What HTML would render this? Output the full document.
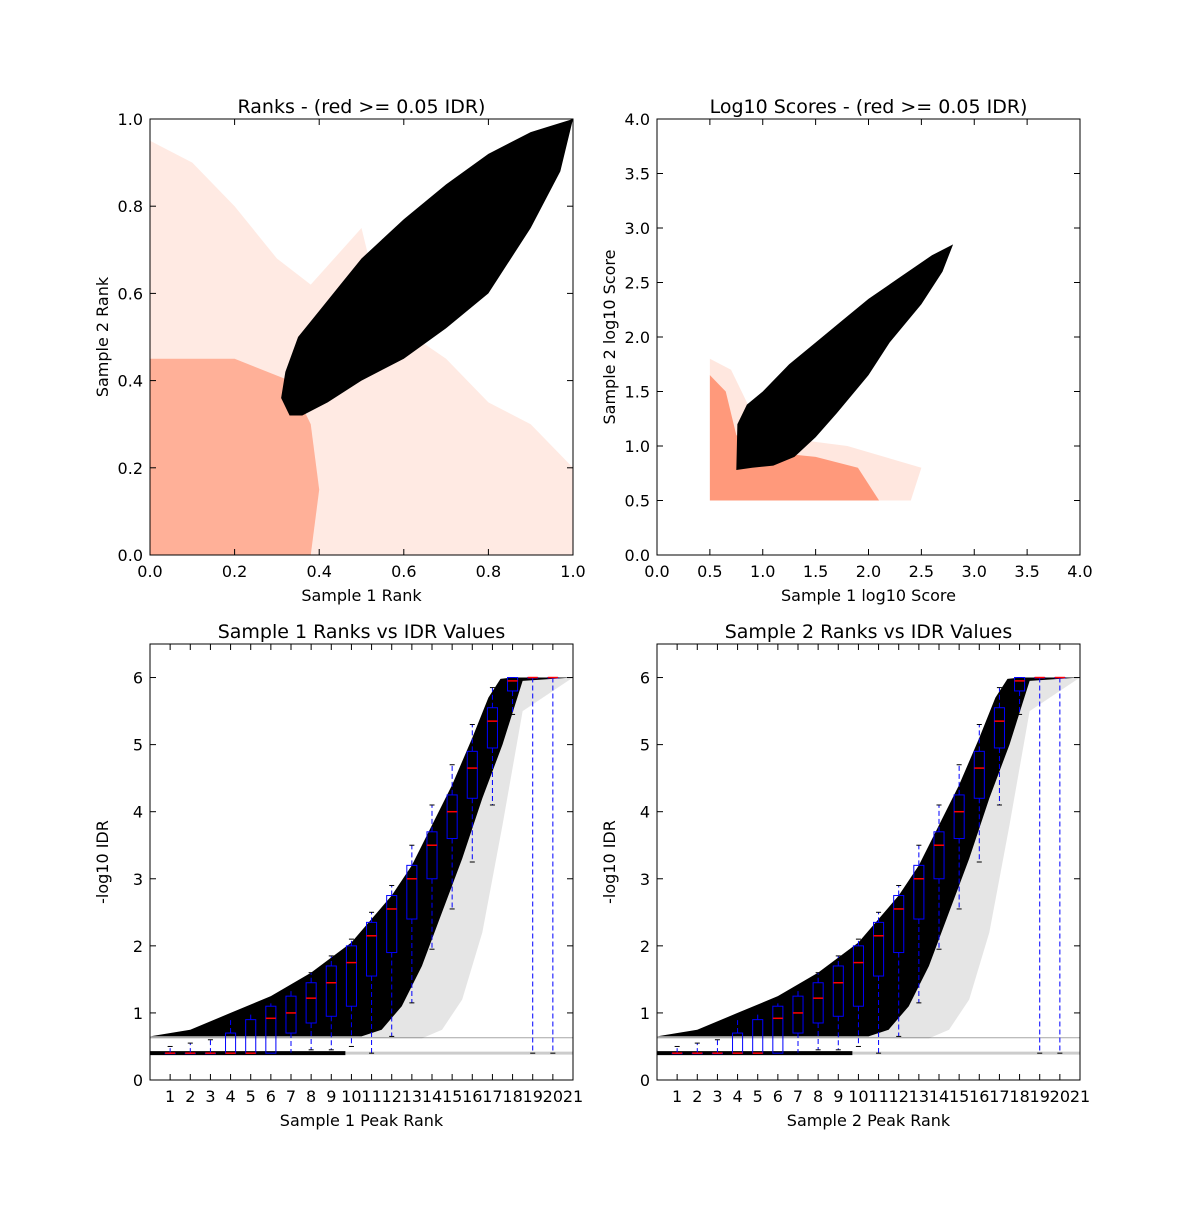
<!DOCTYPE html>
<html><head><meta charset="utf-8"><style>
body{margin:0;background:#fff}
svg text{font-family:"DejaVu Sans","Liberation Sans",sans-serif;fill:#000}
</style></head><body>
<svg id="fig" width="1200" height="1200" viewBox="0 0 1200 1200" xmlns="http://www.w3.org/2000/svg"></svg>
<script>
// ---- data ----
const rankCloudUpper=[[0.31,0.36],[0.32,0.42],[0.35,0.5],[0.4,0.56],[0.45,0.62],[0.5,0.68],[0.6,0.77],[0.7,0.85],[0.8,0.92],[0.9,0.97],[1,1]];
const rankCloudLower=[[1,1],[0.97,0.88],[0.9,0.75],[0.8,0.6],[0.7,0.52],[0.6,0.45],[0.5,0.4],[0.42,0.35],[0.36,0.32],[0.33,0.32]];
const rankSalmonHalo=[[0,0],[0,0.95],[0.1,0.9],[0.2,0.8],[0.3,0.68],[0.38,0.62],[0.5,0.75],[0.55,0.55],[0.7,0.45],[0.8,0.35],[0.9,0.3],[1,0.2],[1,0]];
const rankSalmonCore=[[0,0],[0,0.45],[0.2,0.45],[0.33,0.4],[0.38,0.3],[0.4,0.15],[0.38,0]];
const scoreCloudUpper=[[0.75,0.78],[0.76,1.2],[0.85,1.38],[1.0,1.5],[1.25,1.75],[1.5,1.95],[1.75,2.15],[2.0,2.35],[2.3,2.55],[2.6,2.75],[2.8,2.85]];
const scoreCloudLower=[[2.8,2.85],[2.7,2.6],[2.5,2.3],[2.2,1.95],[2.0,1.65],[1.7,1.3],[1.5,1.08],[1.3,0.9],[1.1,0.82],[0.9,0.8]];
const scoreSalmon=[[0.5,0.5],[0.5,1.65],[0.65,1.5],[0.75,1.1],[1.0,0.95],[1.5,0.9],[1.9,0.8],[2.1,0.5]];
const scoreHalo=[[0.5,0.5],[0.5,1.8],[0.7,1.7],[1.0,1.1],[1.8,1.0],[2.5,0.8],[2.4,0.5]];
const idrUpper=[[0,0.65],[2,0.75],[4,1.0],[6,1.25],[8,1.6],[10,2.05],[12,2.75],[13,3.2],[14,3.8],[15,4.4],[16,5.1],[16.8,5.7],[17.4,5.98],[18,6.0],[21,6.0]];
const idrDenseLower=[[21,6.0],[18.5,5.95],[17.5,5.0],[16.5,4.2],[15.5,3.3],[14.5,2.5],[13.5,1.7],[12.5,1.1],[11.5,0.75],[10.5,0.65],[0,0.65]];
const idrGrayLower=[[21,6.0],[18.5,5.5],[17.5,3.8],[16.5,2.2],[15.5,1.2],[14.5,0.75],[13.5,0.62],[0,0.62]];
const boxPos=[1,2,3,4,5,6,7,8,9,10,11,12,13,14,15,16,17,18,19,20];
const boxMed=[0.4,0.4,0.4,0.4,0.4,0.92,1.0,1.22,1.45,1.75,2.15,2.55,3.0,3.5,4.0,4.65,5.35,5.95,6,6];
const boxQ1=[0.4,0.4,0.4,0.4,0.4,0.4,0.7,0.85,0.95,1.1,1.55,1.9,2.4,3.0,3.6,4.2,4.95,5.8,6,6];
const boxQ3=[0.4,0.4,0.4,0.7,0.9,1.1,1.25,1.45,1.7,2.0,2.35,2.75,3.2,3.7,4.25,4.9,5.55,6.0,6,6];
const boxWLo=[0.4,0.4,0.4,0.4,0.4,0.4,0.4,0.45,0.45,0.5,0.4,0.65,1.15,1.95,2.55,3.25,4.1,5.45,0.4,0.4];
const boxWHi=[0.5,0.55,0.6,0.9,1.0,1.15,1.35,1.6,1.85,2.1,2.5,2.9,3.5,4.1,4.7,5.3,5.85,6.0,6,6];
const rankTicks=["0.0","0.2","0.4","0.6","0.8","1.0"];
const scoreTicks=["0.0","0.5","1.0","1.5","2.0","2.5","3.0","3.5","4.0"];
const idrYTicks=[0,1,2,3,4,5,6];
const idrXTicks=[1,2,3,4,5,6,7,8,9,10,11,12,13,14,15,16,17,18,19,20,21];

const NS="http://www.w3.org/2000/svg";
const svg=document.getElementById('fig');
function mk(tag,attrs,parent){const e=document.createElementNS(NS,tag);for(const k in attrs)e.setAttribute(k,attrs[k]);(parent||svg).appendChild(e);return e;}
function axes(x0,y0,w,h,xd,yd,name){
  const g=mk('g',{});
  
  
  return {g,x:v=>x0+(v-xd[0])/(xd[1]-xd[0])*w,y:v=>y0+h-(v-yd[0])/(yd[1]-yd[0])*h,x0,y0,w,h};
}
function poly(ax,pts,fill,op,name){
  const p=mk('polygon',{points:pts.map(q=>ax.x(q[0])+','+ax.y(q[1])).join(' '),fill:fill,'fill-opacity':op},ax.g);
  
  
  return p;
}
function frame(ax,xt,yt,xv,yv,title,xl,yl){
  const r=mk('rect',{x:ax.x0,y:ax.y0,width:ax.w,height:ax.h,fill:'none',stroke:'#000','stroke-width':1},ax.g);
  
  
  xt.forEach((t,i)=>{const X=ax.x(xv[i]);
    mk('line',{x1:X,x2:X,y1:ax.y0+ax.h,y2:ax.y0+ax.h-6,stroke:'#000'},ax.g);
    mk('line',{x1:X,x2:X,y1:ax.y0,y2:ax.y0+6,stroke:'#000'},ax.g);
    const tx=mk('text',{x:X,y:ax.y0+ax.h+22,'text-anchor':'middle','font-size':16},ax.g);tx.textContent=t;
    
    });
  yt.forEach((t,i)=>{const Y=ax.y(yv[i]);
    mk('line',{x1:ax.x0,x2:ax.x0+6,y1:Y,y2:Y,stroke:'#000'},ax.g);
    mk('line',{x1:ax.x0+ax.w,x2:ax.x0+ax.w-6,y1:Y,y2:Y,stroke:'#000'},ax.g);
    const tx=mk('text',{x:ax.x0-7,y:Y+6,'text-anchor':'end','font-size':16},ax.g);tx.textContent=t;
    
    });
  const tt=mk('text',{x:ax.x0+ax.w/2,y:ax.y0-6,'text-anchor':'middle','font-size':19},ax.g);tt.textContent=title;
  
  
  const xx=mk('text',{x:ax.x0+ax.w/2,y:ax.y0+ax.h+46,'text-anchor':'middle','font-size':16},ax.g);xx.textContent=xl;
  
  
  const cy=ax.y0+ax.h/2;
  const yy=mk('text',{x:ax.x0-42,y:cy,'text-anchor':'middle','font-size':16,transform:`rotate(-90 ${ax.x0-42} ${cy})`},ax.g);yy.textContent=yl;
  
  
}
// top-left
let a=axes(150,119,423,436,[0,1],[0,1],'ranks-scatter');
poly(a,rankSalmonHalo,'#ff9f80',0.22,'salmon-halo');
poly(a,rankSalmonCore,'#ff9070',0.65,'salmon-core');
poly(a,rankCloudUpper.concat(rankCloudLower),'#000',1,'black-cloud');
frame(a,rankTicks,rankTicks,rankTicks.map(Number),rankTicks.map(Number),'Ranks - (red >= 0.05 IDR)','Sample 1 Rank','Sample 2 Rank');
// top-right
a=axes(657,119,423,436,[0,4],[0,4],'scores-scatter');
poly(a,scoreHalo,'#ff9f80',0.25,'salmon-halo');
poly(a,scoreSalmon,'#ff9070',0.9,'salmon-region');
poly(a,scoreCloudUpper.concat(scoreCloudLower),'#000',1,'black-cloud');
frame(a,scoreTicks,scoreTicks,scoreTicks.map(Number),scoreTicks.map(Number),'Log10 Scores - (red >= 0.05 IDR)','Sample 1 log10 Score','Sample 2 log10 Score');
// bottom
[[150,'Sample 1'],[657,'Sample 2']].forEach(([x0,s])=>{
  const b=axes(x0,644,423,436,[0,21],[0,6.5],s.toLowerCase().replace(' ','-')+'-idr-plot');
  poly(b,idrUpper.concat(idrGrayLower),'#000',0.1,'gray-scatter');
  poly(b,idrUpper.concat(idrDenseLower),'#000',1,'dense-scatter');
  let l=mk('line',{x1:b.x(0),x2:b.x(9.7),y1:b.y(0.4),y2:b.y(0.4),stroke:'#000','stroke-width':4},b.g);
  
  l=mk('line',{x1:b.x(9.7),x2:b.x(21),y1:b.y(0.4),y2:b.y(0.4),stroke:'#000','stroke-width':3,'stroke-opacity':0.2},b.g);
  
  l=mk('line',{x1:b.x(0),x2:b.x(21),y1:b.y(0.63),y2:b.y(0.63),stroke:'#000','stroke-width':1,'stroke-opacity':0.35},b.g);
  
  boxPos.forEach((p,i)=>{
    const bx=mk('g',{},b.g);
    
    
    const X=b.x(p),hw=b.w/21*0.25;
    mk('line',{x1:X,x2:X,y1:b.y(boxQ3[i]),y2:b.y(boxWHi[i]),stroke:'#00f','stroke-dasharray':'5,3'},bx);
    mk('line',{x1:X,x2:X,y1:b.y(boxQ1[i]),y2:b.y(boxWLo[i]),stroke:'#00f','stroke-dasharray':'5,3'},bx);
    mk('line',{x1:X-hw/2,x2:X+hw/2,y1:b.y(boxWHi[i]),y2:b.y(boxWHi[i]),stroke:'#000'},bx);
    mk('line',{x1:X-hw/2,x2:X+hw/2,y1:b.y(boxWLo[i]),y2:b.y(boxWLo[i]),stroke:'#000'},bx);
    mk('rect',{x:X-hw,y:b.y(boxQ3[i]),width:2*hw,height:Math.max(0.5,b.y(boxQ1[i])-b.y(boxQ3[i])),fill:'none',stroke:'#00f'},bx);
    mk('line',{x1:X-hw,x2:X+hw,y1:b.y(boxMed[i]),y2:b.y(boxMed[i]),stroke:'#f00','stroke-width':1.5},bx);
  });
  frame(b,idrXTicks.map(String),idrYTicks.map(String),idrXTicks,idrYTicks,s+' Ranks vs IDR Values',s+' Peak Rank','-log10 IDR');
});
</script>
</body></html>
